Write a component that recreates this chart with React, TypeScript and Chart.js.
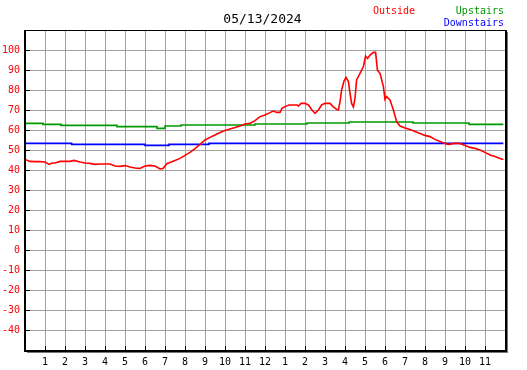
import React, { useEffect, useRef } from 'react';
import { Chart, registerables } from 'chart.js';

Chart.register(...registerables);

const chartTitle = '05/13/2024';
const seriesNames = ['Outside', 'Upstairs', 'Downstairs'];
const seriesColors = ['#ff0000', '#009900', '#0000ff'];

const hourTickLabels = ['', '1', '2', '3', '4', '5', '6', '7', '8', '9', '10', '11', '12', '1', '2', '3', '4', '5', '6', '7', '8', '9', '10', '11', ''];

const outsideHours = [0, 0.25, 0.5, 0.75, 1.0, 1.2, 1.35, 1.5, 1.75, 2.0, 2.25, 2.45, 2.75, 3.0, 3.25, 3.5, 3.75, 4.0, 4.25, 4.5, 4.75, 5.0, 5.25, 5.5, 5.75, 6.0, 6.25, 6.5, 6.75, 6.9, 7.1, 7.25, 7.5, 7.75, 8.0, 8.25, 8.5, 8.75, 9.0, 9.25, 9.5, 9.75, 10, 10.25, 10.5, 10.75, 11, 11.25, 11.5, 11.75, 12, 12.25, 12.4, 12.6, 12.75, 12.85, 13, 13.2, 13.6, 13.67, 13.8, 14, 14.17, 14.33, 14.5, 14.67, 14.83, 15, 15.25, 15.4, 15.58, 15.67, 15.75, 15.83, 15.95, 16.05, 16.17, 16.25, 16.33, 16.42, 16.5, 16.58, 16.75, 16.92, 17.03, 17.13, 17.25, 17.42, 17.53, 17.62, 17.75, 17.92, 18.0, 18.08, 18.25, 18.42, 18.58, 18.75, 19, 19.25, 19.5, 19.75, 20, 20.25, 20.5, 20.75, 21, 21.17, 21.5, 21.75, 22, 22.25, 22.5, 22.75, 23, 23.25, 23.5, 23.75, 23.92];
const outsideTemps = [45.3, 44.3, 44.2, 44.2, 44.0, 42.8, 43.5, 43.5, 44.3, 44.3, 44.3, 44.8, 44.0, 43.5, 43.3, 42.8, 43.0, 43.0, 43.0, 42.0, 41.8, 42.2, 41.5, 41.0, 40.8, 42.0, 42.3, 42.0, 40.5, 40.8, 43.3, 43.7, 44.8, 45.8, 47.3, 48.8, 50.7, 52.8, 55, 56.3, 57.5, 58.7, 59.7, 60.5, 61.2, 62, 63, 63.3, 64.7, 66.7, 67.5, 68.7, 69.5, 68.8, 68.8, 70.8, 71.7, 72.5, 72.5, 72, 73.3, 73.3, 72.5, 70.3, 68.3, 70, 72.5, 73.3, 73.3, 71.7, 70.3, 70, 74, 80, 84.5, 86.3, 84.2, 78.3, 73.3, 71.5, 75.8, 85, 88.3, 91.7, 97, 95.8, 97.5, 98.8, 98.8, 90, 88.3, 81.7, 75.3, 76.7, 75, 70, 64.2, 62, 61, 60.2, 59.3, 58.3, 57.3, 56.7, 55.3, 54.3, 53.3, 52.8, 53.3, 53.3, 52.3, 51.3, 50.8, 50, 48.8, 47.5, 46.7, 45.8, 45.3];

const upstairsHours = [0, 0.9, 1.8, 4.6, 6.6, 7.0, 7.8, 11.5, 14.1, 16.2, 19.4, 22.2, 23.92];
const upstairsTemps = [63.3, 62.8, 62.3, 61.7, 60.8, 62.0, 62.5, 63.0, 63.5, 64.0, 63.5, 62.8, 62.8];

const downstairsHours = [0, 2.33, 6.0, 7.2, 9.2, 23.92];
const downstairsTemps = [53.3, 52.8, 52.3, 52.8, 53.3, 53.3];

const toPoints = (xs: number[], ys: number[]) => xs.map((x, i) => ({ x, y: ys[i] }));

const MONO = '"DejaVu Sans Mono", monospace';

const framePlugin = {
  id: 'frame',
  afterDraw(chart: any) {
    const { ctx, chartArea } = chart;
    const { left, right, top, bottom } = chartArea;
    ctx.save();
    ctx.strokeStyle = '#000';
    ctx.lineWidth = 1;
    const ys = chart.scales.y;
    for (let v = -40; v <= 100; v += 10) {
      const py = Math.round(ys.getPixelForValue(v)) + 0.5;
      ctx.beginPath();
      ctx.moveTo(left, py);
      ctx.lineTo(left + 5, py);
      ctx.stroke();
    }
    const xs = chart.scales.x;
    for (let h = 1; h <= 23; h++) {
      const px = Math.round(xs.getPixelForValue(h)) + 0.5;
      ctx.beginPath();
      ctx.moveTo(px, bottom - 4);
      ctx.lineTo(px, bottom);
      ctx.stroke();
    }
    ctx.fillStyle = '#000';
    ctx.fillRect(left, top, right - left, 1);
    ctx.fillRect(left - 1, top, 2, bottom - top + 2);
    ctx.fillRect(right, top, 2, bottom - top + 2);
    ctx.fillRect(left - 1, bottom, right - left + 3, 2);
    ctx.fillStyle = '#777';
    ctx.fillRect(right + 2, top + 2, 1, bottom - top + 1);
    ctx.fillRect(left + 2, bottom + 2, right - left + 1, 1);

    ctx.textBaseline = 'middle';
    ctx.font = `13px ${MONO}`;
    ctx.fillStyle = '#000';
    ctx.textAlign = 'center';
    ctx.fillText(chartTitle, 262.5, 20);
    ctx.font = `10px ${MONO}`;
    ctx.textAlign = 'left';
    ctx.fillStyle = seriesColors[0];
    ctx.fillText(seriesNames[0], 373, 11);
    ctx.textAlign = 'right';
    ctx.fillStyle = seriesColors[1];
    ctx.fillText(seriesNames[1], 504, 11);
    ctx.fillStyle = seriesColors[2];
    ctx.fillText(seriesNames[2], 504, 23);
    ctx.restore();
  },
};

export default function App() {
  const ref = useRef<HTMLCanvasElement>(null);
  useEffect(() => {
    document.body.style.margin = '0';
    const canvas = ref.current!;
    const chart = new Chart(canvas, {
      type: 'line',
      data: {
        datasets: [
          {
            label: seriesNames[0],
            data: toPoints(outsideHours, outsideTemps),
            borderColor: seriesColors[0],
            borderWidth: 1.6,
            pointRadius: 0,
            tension: 0,
          },
          {
            label: seriesNames[1],
            data: toPoints(upstairsHours, upstairsTemps),
            borderColor: seriesColors[1],
            borderWidth: 1.6,
            pointRadius: 0,
            stepped: true,
          },
          {
            label: seriesNames[2],
            data: toPoints(downstairsHours, downstairsTemps),
            borderColor: seriesColors[2],
            borderWidth: 1.6,
            pointRadius: 0,
            stepped: true,
          },
        ],
      },
      options: {
        responsive: false,
        animation: false,
        layout: { padding: { top: 30, right: 22, left: 0, bottom: 0 } },
        plugins: { legend: { display: false }, tooltip: { enabled: false }, title: { display: false } },
        scales: {
          x: {
            type: 'linear',
            min: 0,
            max: 24,
            afterFit: (s: any) => { s.height = 20; },
            grid: { color: '#a0a0a0', lineWidth: 1, drawTicks: false },
            border: { display: false },
            ticks: {
              stepSize: 1,
              autoSkip: false,
              maxRotation: 0,
              padding: 6,
              color: '#000',
              font: { family: MONO, size: 10 },
              callback: (v: any) => hourTickLabels[Number(v)] ?? '',
            },
          },
          y: {
            min: -50,
            max: 110,
            afterFit: (s: any) => { s.width = 25; },
            grid: { color: '#a0a0a0', lineWidth: 1, drawTicks: false },
            border: { display: false },
            ticks: {
              stepSize: 10,
              padding: 5,
              color: '#ff0000',
              font: { family: MONO, size: 10 },
              callback: (v: any) => (v === -50 || v === 110 ? '' : String(v)),
            },
          },
        },
      },
      plugins: [framePlugin],
    });
    return () => chart.destroy();
  }, []);
  return <canvas ref={ref} width={527} height={370} style={{ display: 'block' }} />;
}
